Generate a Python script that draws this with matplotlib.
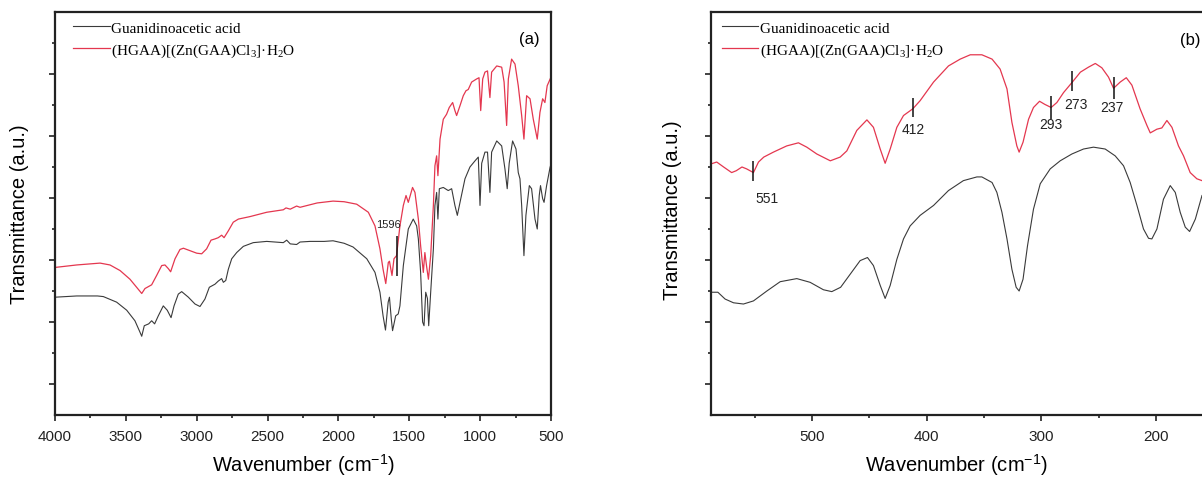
import numpy as np
import matplotlib
matplotlib.use('Agg')
import matplotlib.pyplot as plt
from matplotlib.ticker import MultipleLocator, FixedLocator, NullFormatter

plt.rcParams['font.family'] = ['Liberation Sans', 'DejaVu Sans']
plt.rcParams['mathtext.fontset'] = 'custom'
plt.rcParams['mathtext.rm'] = 'Liberation Serif'
plt.rcParams['mathtext.sf'] = 'Liberation Sans'

label_gaa = 'Guanidinoacetic acid'
label_cplx = '(HGAA)[(Zn(GAA)Cl$_3$]\u00b7H$_2$O'

# (a) FTIR 4000-500 cm-1
wn_a_gaa = [4000, 3847, 3700, 3659, 3565, 3494, 3436, 3405, 3388, 3370, 3339, 3318, 3297, 3271,
            3236, 3208, 3181, 3160, 3130, 3106, 3059, 3012, 2977, 2942, 2911, 2871, 2848, 2824,
            2812, 2795, 2777, 2753, 2718, 2671, 2601, 2506, 2389, 2365, 2340, 2295, 2271, 2200,
            2100, 2038, 1960, 1897, 1800, 1742, 1707, 1685, 1668, 1649, 1640, 1627, 1618, 1596,
            1578, 1566, 1542, 1507, 1472, 1448, 1436, 1420, 1406, 1396, 1384, 1372, 1363, 1349,
            1330, 1319, 1307, 1298, 1288, 1260, 1225, 1201, 1178, 1161, 1142, 1107, 1072, 1036,
            1013, 1001, 989, 966, 948, 931, 919, 883, 848, 825, 809, 795, 771, 747, 731, 719,
            707, 691, 677, 653, 637, 613, 597, 583, 574, 559, 549, 531, 507, 500]
tr_a_gaa = [1.90, 1.92, 1.92, 1.91, 1.82, 1.69, 1.52, 1.36, 1.27, 1.44, 1.47, 1.52, 1.47, 1.60,
            1.76, 1.69, 1.57, 1.76, 1.95, 1.99, 1.90, 1.79, 1.75, 1.87, 2.06, 2.11, 2.16, 2.20,
            2.14, 2.17, 2.35, 2.52, 2.62, 2.72, 2.78, 2.80, 2.78, 2.82, 2.76, 2.75, 2.79, 2.80,
            2.80, 2.81, 2.77, 2.71, 2.52, 2.30, 1.98, 1.60, 1.37, 1.82, 1.90, 1.55, 1.36, 1.60,
            1.63, 1.76, 2.41, 3.00, 3.16, 3.05, 2.84, 2.30, 1.50, 1.44, 1.98, 1.88, 1.44, 1.98,
            2.68, 3.38, 3.59, 3.16, 3.65, 3.67, 3.62, 3.65, 3.38, 3.22, 3.43, 3.81, 4.00, 4.10,
            4.16, 3.38, 4.06, 4.24, 4.24, 3.59, 4.24, 4.42, 4.34, 3.97, 3.65, 4.06, 4.42, 4.29,
            3.91, 3.81, 3.38, 2.57, 3.22, 3.70, 3.65, 3.16, 3.00, 3.54, 3.70, 3.49, 3.43, 3.70,
            3.99, 4.05]

wn_a_cplx = [4000, 3847, 3682, 3612, 3541, 3471, 3424, 3388, 3365, 3318, 3283, 3247, 3224, 3200,
             3184, 3153, 3118, 3094, 3047, 3000, 2965, 2930, 2899, 2871, 2848, 2824, 2807, 2777,
             2742, 2706, 2624, 2506, 2389, 2370, 2340, 2295, 2271, 2150, 2038, 1960, 1871, 1789,
             1742, 1707, 1685, 1666, 1648, 1640, 1622, 1608, 1590, 1566, 1542, 1523, 1507, 1477,
             1460, 1436, 1420, 1401, 1390, 1378, 1365, 1349, 1330, 1319, 1307, 1298, 1283, 1260,
             1237, 1218, 1194, 1178, 1166, 1142, 1119, 1100, 1084, 1060, 1025, 1008, 996, 982,
             966, 948, 931, 919, 883, 848, 831, 813, 801, 778, 754, 731, 707, 691, 672, 648, 625,
             597, 578, 559, 543, 527, 502]
tr_a_cplx = [2.38, 2.42, 2.45, 2.42, 2.33, 2.19, 2.06, 1.96, 2.04, 2.10, 2.25, 2.41, 2.42, 2.36,
             2.31, 2.52, 2.67, 2.69, 2.65, 2.61, 2.60, 2.68, 2.82, 2.84, 2.86, 2.90, 2.86, 2.97,
             3.11, 3.16, 3.20, 3.27, 3.31, 3.34, 3.32, 3.37, 3.35, 3.42, 3.45, 3.44, 3.40, 3.27,
             3.05, 2.68, 2.35, 2.12, 2.46, 2.48, 2.25, 2.52, 2.57, 3.05, 3.38, 3.54, 3.43, 3.67,
             3.59, 3.16, 2.73, 2.30, 2.62, 2.40, 2.19, 2.57, 3.38, 4.02, 4.18, 3.86, 4.45, 4.77,
             4.85, 4.96, 5.04, 4.91, 4.83, 4.99, 5.15, 5.23, 5.25, 5.37, 5.42, 5.44, 4.91, 5.42,
             5.53, 5.55, 5.12, 5.53, 5.63, 5.61, 5.37, 4.67, 5.42, 5.74, 5.66, 5.31, 4.83, 4.45,
             5.15, 5.10, 4.77, 4.45, 4.88, 5.10, 5.04, 5.31, 5.44]

# (b) far-IR 590-160 cm-1
wn_b_gaa = [588, 582, 575.7, 568.4, 559.7, 551, 539.3, 527.7, 513.2, 501.6, 490, 482.7, 475,
            466.7, 458, 451.6, 446.4, 440.5, 436.2, 431.8, 426, 420.2, 414.4, 405.7, 394, 381,
            368, 356.2, 351.9, 343, 338.8, 334.4, 330, 325.7, 322, 319.4, 316, 312.1, 306.9,
            301, 292.3, 283.6, 273.4, 263.3, 254.6, 244.4, 235.7, 228.4, 222.6, 216.7, 211,
            206.6, 203.7, 199.3, 193.6, 187.7, 183.3, 179, 174.6, 170.8, 165.8, 160]
tr_b_gaa = [1.98, 1.98, 1.87, 1.81, 1.79, 1.84, 2.00, 2.15, 2.20, 2.14, 2.02, 1.99, 2.06,
            2.27, 2.49, 2.54, 2.41, 2.09, 1.88, 2.09, 2.51, 2.84, 3.05, 3.22, 3.38, 3.62,
            3.78, 3.84, 3.84, 3.75, 3.59, 3.27, 2.84, 2.35, 2.06, 2.00, 2.19, 2.73, 3.32,
            3.73, 3.97, 4.10, 4.21, 4.29, 4.32, 4.29, 4.18, 4.02, 3.75, 3.38, 3.00,
            2.85, 2.84, 3.00, 3.48, 3.70, 3.59, 3.27, 3.03, 2.96, 3.16, 3.54]

wn_b_cplx = [588, 583, 577, 570, 566, 561, 557, 551, 546.6, 542, 533.6, 522, 511.8, 504.5,
             495.8, 484, 475.4, 469.6, 460.9, 452.1, 446.4, 440.5, 436.2, 431.8, 426, 420.2,
             412, 405.7, 394, 381, 370.8, 362, 351.9, 343, 336, 330, 325.7, 321.4, 319.4, 316,
             311.2, 306.9, 301.6, 297, 291.5, 286.5, 280.7, 273, 266, 259, 253, 247.3, 241.5,
             237.1, 231.3, 226, 221.1, 214, 208, 205.1, 199.3, 195, 190.6, 186.2, 180.5, 176.1,
             170.3, 164.5, 160]
tr_b_cplx = [4.05, 4.08, 4.00, 3.91, 3.94, 4.00, 3.97, 3.91, 4.08, 4.16, 4.24, 4.34, 4.39, 4.32,
             4.21, 4.10, 4.16, 4.26, 4.59, 4.76, 4.64, 4.29, 4.06, 4.29, 4.64, 4.83,
             4.94, 5.07, 5.37, 5.63, 5.74, 5.81, 5.81, 5.74, 5.58, 5.26, 4.72, 4.34, 4.24, 4.40,
             4.77, 4.96, 5.06, 5.01, 4.96, 5.04, 5.20, 5.37, 5.53, 5.61, 5.67, 5.60, 5.45,
             5.27, 5.37, 5.44, 5.32, 4.94, 4.67, 4.55, 4.61, 4.63, 4.75, 4.64, 4.34, 4.18,
             3.91, 3.81, 3.78]

# marked bands: (wavenumber, marker bottom, marker top, label x, label y)
peaks_a = [(1590, 2.25, 2.89, 1650, 3.08, '1596')]
peaks_b = [(551, 3.78, 4.10, 539.5, 3.50, '551'),
           (412, 4.80, 5.12, 412, 4.61, '412'),
           (291.5, 4.77, 5.15, 291.5, 4.70, '293'),
           (273, 5.23, 5.55, 270.3, 5.01, '273'),
           (237.1, 5.10, 5.45, 238.5, 4.96, '237')]

RED = '#e4374f'
BLACK = '#3a3a3a'


def styleAxes(ax, xmajor, xminor):
	ax.set_ylim(0, 6.5)
	ax.yaxis.set_major_locator(FixedLocator(np.arange(0.5, 6.0, 1.0)))
	ax.yaxis.set_minor_locator(FixedLocator(np.arange(1.0, 6.5, 1.0)))
	ax.yaxis.set_major_formatter(NullFormatter())
	ax.xaxis.set_major_locator(MultipleLocator(xmajor))
	ax.xaxis.set_minor_locator(MultipleLocator(xminor))
	ax.tick_params(which='both', direction='out', top=False, right=False, width=1.2, colors='#222222')
	ax.tick_params(which='major', length=4.5, labelsize=11, pad=5.5)
	ax.tick_params(which='minor', length=2.5)
	for s in ax.spines.values():
		s.set_linewidth(1.6)
		s.set_color('#222222')
	ax.set_xlabel('Wavenumber (cm$^{\\mathsf{-1}}$)', fontsize=14.5)
	ax.set_ylabel('Transmittance (a.u.)', fontsize=14.5)
	ax.xaxis.set_label_coords(0.5, -0.09)


def plotPanel(ax, wn1, tr1, wn2, tr2, peaks, fs, legend_x):
	ax.plot(wn1, tr1, color=BLACK, lw=0.8, label=label_gaa)
	ax.plot(wn2, tr2, color=RED, lw=0.9, label=label_cplx)
	for x, y0, y1, tx, ty, txt in peaks:
		ax.vlines(x, y0, y1, color='#111111', lw=1.1)
		ax.text(tx, ty, txt, ha='center', va='center', fontsize=fs, color='#222222')
	ax.legend(loc='upper left', bbox_to_anchor=(legend_x, 0.978), frameon=False,
			  prop={'family': 'Liberation Serif', 'size': 11}, handlelength=2.4,
			  handletextpad=0.1, labelspacing=0.45, borderpad=0, borderaxespad=0)


fig = plt.figure(figsize=(12.02, 4.81), dpi=100)
axa = fig.add_axes([55 / 1202, 65 / 481, 496 / 1202, 403 / 481])
axb = fig.add_axes([711 / 1202, 65 / 481, 491 / 1202, 403 / 481])

plotPanel(axa, wn_a_gaa, tr_a_gaa, wn_a_cplx, tr_a_cplx, peaks_a, 8, 0.036)
axa.set_xlim(4000, 500)
styleAxes(axa, 500, 250)
axa.yaxis.set_label_coords(-0.052, 0.5)
axa.text(0.956, 0.935, '(a)', transform=axa.transAxes, ha='center', va='center', fontsize=12)

plotPanel(axb, wn_b_gaa, tr_b_gaa, wn_b_cplx, tr_b_cplx, peaks_b, 10, 0.022)
axb.set_xlim(588, 160)
styleAxes(axb, 100, 50)
axb.spines['right'].set_visible(False)
axb.yaxis.set_label_coords(-0.060, 0.51)
axb.text(0.976, 0.933, '(b)', transform=axb.transAxes, ha='center', va='center', fontsize=12)

fig.savefig('out.png', dpi=100)
